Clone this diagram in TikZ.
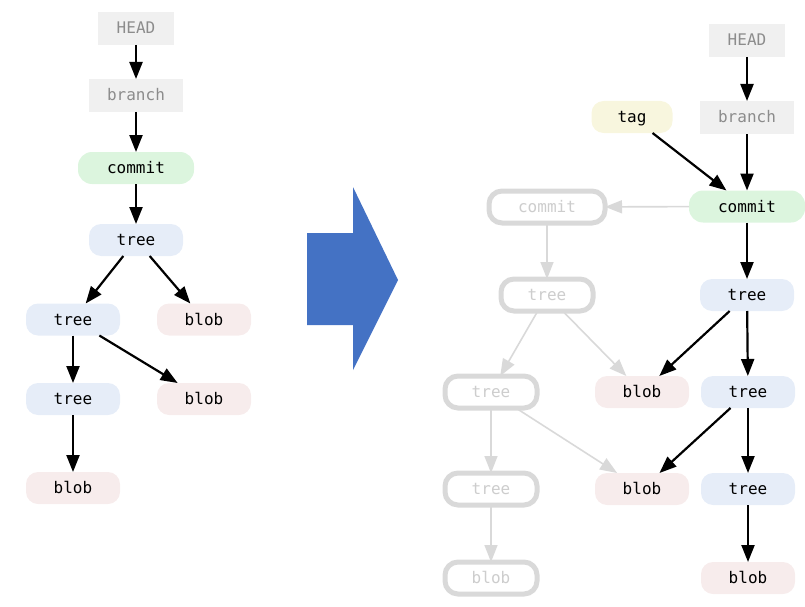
\documentclass[tikz,border=0pt]{standalone}
\usepackage{fontspec}
\setmonofont{DejaVu Sans Mono}
\usetikzlibrary{arrows.meta}
\begin{document}
\begin{tikzpicture}[x=1pt,y=-1pt,
  obj/.style={inner sep=0, outer sep=0, minimum width=94pt, minimum height=32pt,
    text height=11.5pt, text depth=0.5pt,
    font=\ttfamily\fontsize{16pt}{16pt}\selectfont},
  refbox/.style={obj, fill=col_ref, text=col_reftext, minimum height=33pt},
  commitbox/.style={obj, rounded corners=14pt, fill=col_commit, minimum width=116pt},
  treebox/.style={obj, rounded corners=12pt, fill=col_tree},
  blobbox/.style={obj, rounded corners=12pt, fill=col_blob},
  tagbox/.style={obj, rounded corners=12pt, fill=col_tag, minimum width=81pt},
  oldbox/.style={obj, rounded corners=13pt, draw=col_old, line width=5pt, fill=white, text=col_oldtext, minimum width=92pt},
  link/.style={-{Triangle[length=17pt,width=13pt]}, line width=2.2pt, black},
  oldlink/.style={-{Triangle[length=17pt,width=13pt]}, line width=1.6pt, col_old}]
\useasboundingbox (0,0) rectangle (805,607);
\definecolor{col_ref}{RGB}{240, 240, 240}
\definecolor{col_reftext}{RGB}{140, 140, 140}
\definecolor{col_commit}{RGB}{220, 245, 222}
\definecolor{col_tree}{RGB}{230, 237, 248}
\definecolor{col_blob}{RGB}{247, 236, 236}
\definecolor{col_tag}{RGB}{248, 246, 222}
\definecolor{col_old}{RGB}{217, 217, 217}
\definecolor{col_oldtext}{RGB}{205, 205, 205}
\definecolor{col_arrow}{RGB}{68, 114, 196}
% before
\node[refbox, minimum width=76pt] (headA) at (136.0,28.5) {HEAD};
\node[refbox] (branchA) at (136.0,95.5) {branch};
\node[commitbox] (commitA) at (136.0,168.0) {commit};
\node[treebox] (treeA) at (136.0,240.0) {tree};
\node[treebox] (treeAa) at (73.0,319.5) {tree};
\node[blobbox] (blobAa) at (204.0,319.5) {blob};
\node[treebox] (treeAb) at (73.0,399.0) {tree};
\node[blobbox] (blobAb) at (204.0,399.0) {blob};
\node[blobbox] (blobAc) at (73.0,488.0) {blob};
\draw [link] (headA) -- (branchA);
\draw [link] (branchA) -- (commitA);
\draw [link] (commitA) -- (treeA);
\draw [link] (treeA) -- (treeAa);
\draw [link] (treeA) -- (blobAa);
\draw [link] (treeAa) -- (treeAb);
\draw [link] (treeAa) -- (blobAb);
\draw [link] (treeAb) -- (blobAc);
% big arrow
\fill [col_arrow] (307.0,233.0) -- (353.0,233.0) -- (353.0,187.0) -- (398.0,280.0) -- (353.0,370.0) -- (353.0,325.0) -- (307.0,325.0) -- cycle;
% after: old objects
\node[oldbox, minimum width=116pt] (commitO) at (547.0,207.0) {commit};
\node[oldbox] (treeO) at (547.0,295.0) {tree};
\node[oldbox] (treeOa) at (491.0,392.0) {tree};
\node[oldbox] (treeOb) at (491.0,489.0) {tree};
\node[oldbox] (blobO) at (491.0,578.0) {blob};
% after: new objects
\node[refbox, minimum width=76pt] (headB) at (747.0,40.5) {HEAD};
\node[refbox] (branchB) at (747.0,117.5) {branch};
\node[tagbox] (tagB) at (632.0,117.0) {tag};
\node[commitbox] (commitB) at (747.0,206.5) {commit};
\node[treebox] (treeB) at (747.0,295.0) {tree};
\node[blobbox] (blobBa) at (642.0,392.0) {blob};
\node[treebox] (treeBa) at (748.0,392.0) {tree};
\node[blobbox] (blobBb) at (642.0,489.0) {blob};
\node[treebox] (treeBb) at (748.0,489.0) {tree};
\node[blobbox] (blobBc) at (748.0,578.0) {blob};
\draw [oldlink] (commitB) -- (commitO);
\draw [oldlink] (commitO) -- (treeO);
\draw [oldlink] (treeO) -- (treeOa);
\draw [oldlink] (treeO) -- (blobBa);
\draw [oldlink] (treeOa) -- (treeOb);
\draw [oldlink] (treeOa) -- (blobBb);
\draw [oldlink] (treeOb) -- (blobO);
\draw [link] (headB) -- (branchB);
\draw [link] (branchB) -- (commitB);
\draw [link] (tagB) -- (commitB);
\draw [link] (commitB) -- (treeB);
\draw [link] (treeB) -- (blobBa);
\draw [link] (treeB) -- (treeBa);
\draw [link] (treeBa) -- (blobBb);
\draw [link] (treeBa) -- (treeBb);
\draw [link] (treeBb) -- (blobBc);
\end{tikzpicture}
\end{document}
